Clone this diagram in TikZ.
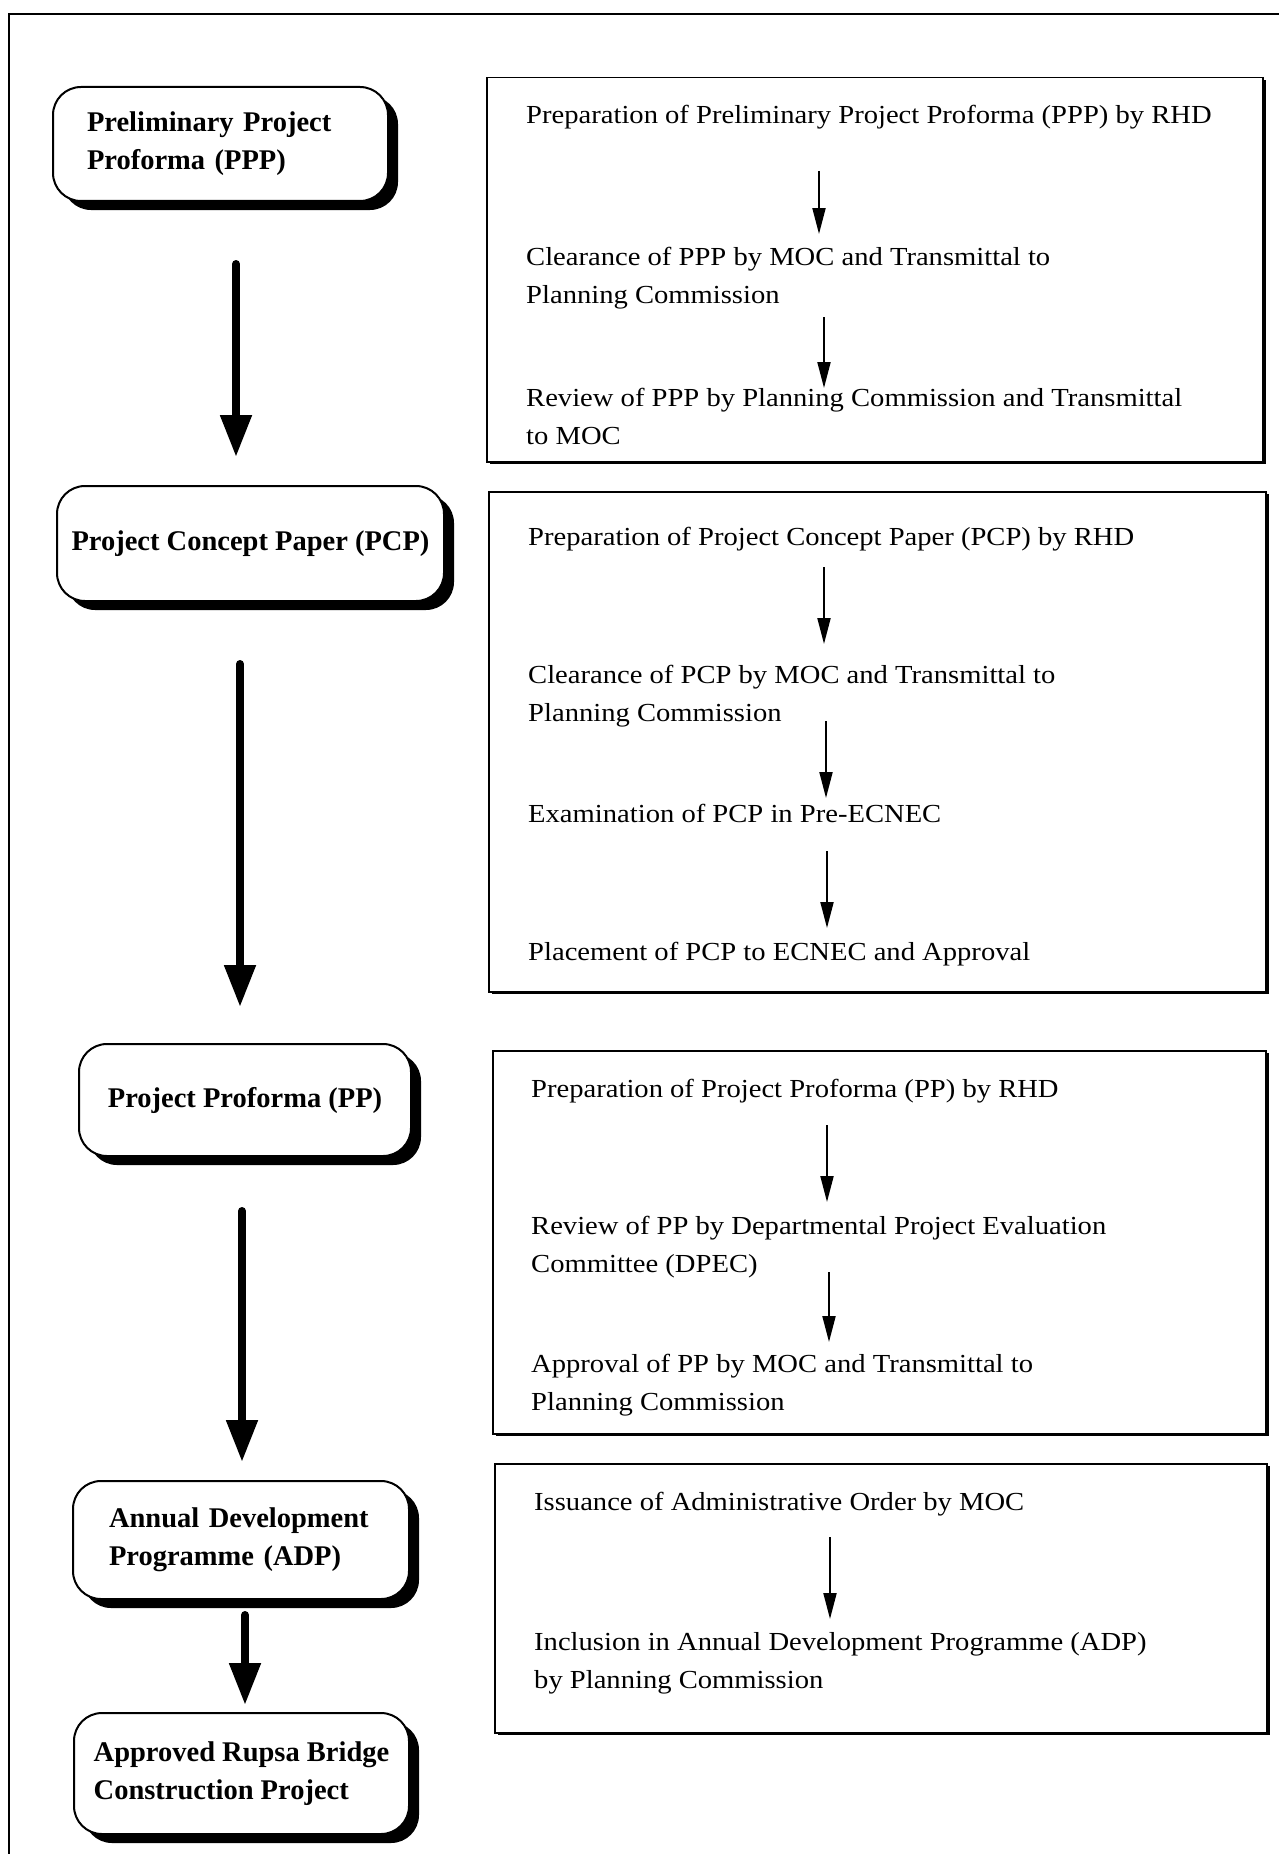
\documentclass[tikz,border=0pt]{standalone}
\usepackage{fontspec}
\setmainfont{Liberation Serif}
\newfontfamily\rfont[FakeStretch=1.1]{Liberation Serif}
\usetikzlibrary{arrows.meta,shadows,calc}
\begin{document}
\begin{tikzpicture}[x=1pt,y=-1pt,
  lbox/.style={draw, line width=2pt, rounded corners=28pt, fill=white, anchor=north west, inner sep=0pt,
    font=\fontsize{28.5}{38}\selectfont\bfseries, align=left,
    drop shadow={shadow xshift=10pt, shadow yshift=-9pt, fill=black, opacity=1}},
  rbox/.style={draw, line width=1.5pt, fill=white, anchor=north west, inner sep=0pt,
    drop shadow={shadow xshift=3pt, shadow yshift=-2.5pt, fill=black, opacity=1}},
  rtext/.style={anchor=base west, inner sep=0pt, font=\rfont\fontsize{26}{38}\selectfont, align=left},
  bigarrow/.style={line width=8pt, line cap=round, -{Triangle[width=30pt,length=42pt]}},
  smallarrow/.style={line width=2pt, -{Triangle[width=13pt,length=26pt]}},
]
\useasboundingbox (0,0) rectangle (1279,1854);
\fill[white] (0,0) rectangle (1279,1854);
% frame
\draw[line width=2pt] (9,1854) -- (9,14) -- (1279,14);

% left boxes
\node[lbox, minimum width=335pt, minimum height=114pt, text width=267pt] (b1) at (52,86) {Preliminary Project\\Proforma (PPP)};
\node[lbox, minimum width=387pt, minimum height=115pt] (b2) at (56,485) {Project Concept Paper (PCP)};
\node[lbox, minimum width=332pt, minimum height=112pt] (b3) at (78,1043) {Project Proforma (PP)};
\node[lbox, minimum width=336pt, minimum height=118pt, text width=264pt] (b4) at (72,1480) {Annual Development\\Programme (ADP)};
\node[lbox, minimum width=335pt, minimum height=121pt] (b5) at (73,1712) {Approved Rupsa Bridge\\Construction Project};

\draw[bigarrow, shorten <=62pt, shorten >=28pt] (b1.south -| 236,0) -- (b2.north -| 236,0);
\draw[bigarrow, shorten <=62pt, shorten >=36pt] (b2.south -| 240,0) -- (b3.north -| 240,0);
\draw[bigarrow, shorten <=54pt, shorten >=18pt] (b3.south -| 242,0) -- (b4.north -| 242,0);
\draw[bigarrow, shorten <=15pt, shorten >=7pt] (b4.south -| 245,0) -- (b5.north -| 245,0);

% right boxes
\node[rbox, minimum width=776pt, minimum height=384pt] (r1) at (486,77) {};
\node[rbox, minimum width=777pt, minimum height=500pt] (r2) at (488,491) {};
\node[rbox, minimum width=773pt, minimum height=383pt] (r3) at (492,1050) {};
\node[rbox, minimum width=772pt, minimum height=269pt] (r4) at (494,1463) {};

\node[rtext] (t11) at (526,124) {Preparation of Preliminary Project Proforma (PPP) by RHD};
\node[rtext] (t12) at (526,303) {Clearance of PPP by MOC and Transmittal to\\Planning Commission};
\node[rtext] (t13) at (526,444) {Review of PPP by Planning Commission and Transmittal\\to MOC};

\node[rtext] (t21) at (528,545) {Preparation of Project Concept Paper (PCP) by RHD};
\node[rtext] (t22) at (528,721) {Clearance of PCP by MOC and Transmittal to\\Planning Commission};
\node[rtext] (t23) at (528,822) {Examination of PCP in Pre-ECNEC};
\node[rtext] (t24) at (528,960) {Placement of PCP to ECNEC and Approval};

\node[rtext] (t31) at (531,1097) {Preparation of Project Proforma (PP) by RHD};
\node[rtext] (t32) at (531,1272) {Review of PP by Departmental Project Evaluation\\Committee (DPEC)};
\node[rtext] (t33) at (531,1410) {Approval of PP by MOC and Transmittal to\\Planning Commission};

\node[rtext] (t41) at (534,1510) {Issuance of Administrative Order by MOC};
\node[rtext] (t42) at (534,1688) {Inclusion in Annual Development Programme (ADP)\\by Planning Commission};

\draw[smallarrow, shorten <=47pt, shorten >=69pt] (t11.base -| 819,0) -- (t12.base -| 819,0);
\draw[smallarrow, shorten <=14pt, shorten >=56pt] (t12.base -| 824,0) -- (t13.base -| 824,0);
\draw[smallarrow, shorten <=22pt, shorten >=77pt] (t21.base -| 824,0) -- (t22.base -| 824,0);
\draw[smallarrow, shorten <=0pt, shorten >=24pt] (t22.base -| 826,0) -- (t23.base -| 826,0);
\draw[smallarrow, shorten <=29pt, shorten >=32pt] (t23.base -| 827,0) -- (t24.base -| 827,0);
\draw[smallarrow, shorten <=28pt, shorten >=70pt] (t31.base -| 827,0) -- (t32.base -| 827,0);
\draw[smallarrow, shorten <=0pt, shorten >=68pt] (t32.base -| 829,0) -- (t33.base -| 829,0);
\draw[smallarrow, shorten <=27pt, shorten >=69pt] (t41.base -| 830,0) -- (t42.base -| 830,0);
\end{tikzpicture}
\end{document}
